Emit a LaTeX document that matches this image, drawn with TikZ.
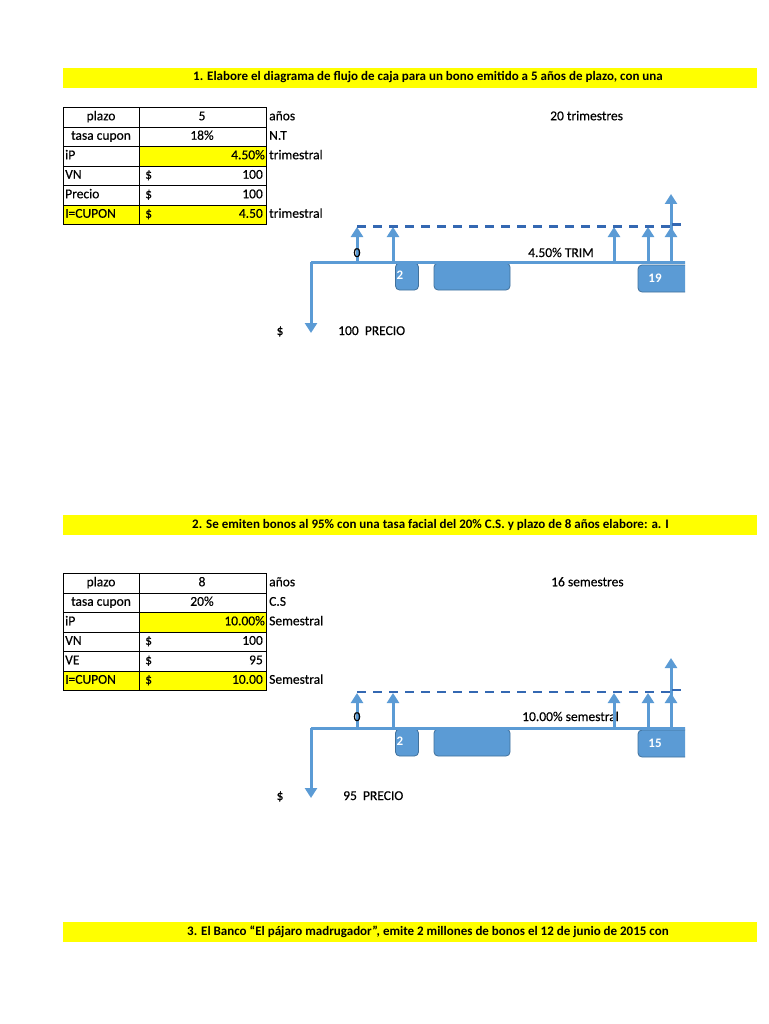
\documentclass[tikz,border=0pt]{standalone}
\usepackage{fontspec}
\setmainfont{Carlito}
\newfontfamily\semib{Carlito}[FakeBold=0.35]
\usetikzlibrary{arrows.meta}
\definecolor{ylw}{RGB}{255,255,0}
\definecolor{lblue}{RGB}{91,155,213}
\definecolor{dblue}{RGB}{52,104,178}
\definecolor{bord}{RGB}{65,113,156}
\tikzset{
  txt/.style={inner sep=0pt, text height=9pt, text depth=3pt, font=\semib\fontsize{13.5}{15}\selectfont},
  hdr/.style={inner sep=0pt, text height=9pt, text depth=3pt, font=\bfseries\fontsize{13}{15}\selectfont, anchor=west},
  grid/.style={draw=black, line width=0.8pt},
  axis/.style={draw=lblue, line width=3pt},
  uparrow/.style={draw=lblue, line width=3pt, -{Triangle[width=12pt,length=10pt]}},
  dashline/.style={draw=dblue, line width=2.2pt, dash pattern=on 9pt off 7pt},
  box/.style={draw=bord, fill=lblue, line width=0.8pt, rounded corners=4pt},
  boxtxt/.style={txt, text=white, font=\bfseries\fontsize{13}{15}\selectfont},
}
\begin{document}
\begin{tikzpicture}[x=1pt,y=-1pt]
\useasboundingbox[fill=white] (0,0) rectangle (768,1024);

%% ================= Section 1 =================
\fill[ylw] (63,68) rectangle (757,88);
\node[hdr] (h1) at (193,78) {1. Elabore el diagrama de flujo de caja para un bono emitido a 5 años de plazo, con una};

\fill[ylw] (139,146.5) rectangle (266,166);
\fill[ylw] (63,205) rectangle (266,224.5);
\draw[grid] (63,107.5) rectangle (266,224.5);
\foreach \yy in {127,146.5,166,185.5,205} \draw[grid] (63,\yy) -- (266,\yy);
\draw[grid] (139,107.5) -- (139,224.5);

\node[txt] (a1) at (101,117.25) {plazo};
\node[txt] (a2) at (101,136.75) {tasa cupon};
\node[txt,anchor=west] (a3) at (65,156.25) {iP};
\node[txt,anchor=west] (a4) at (65,175.75) {VN};
\node[txt,anchor=west] (a5) at (65,195.25) {Precio};
\node[txt,anchor=west] (a6) at (65,214.75) {I=CUPON};
\node[txt] (b1) at (202,117.25) {5};
\node[txt] (b2) at (202,136.75) {18\%};
\node[txt,anchor=east] (b3) at (265,156.25) {4.50\%};
\node[txt,anchor=west] (b4s) at (145,175.75) {\$};
\node[txt,anchor=east] (b4) at (263,175.75) {100};
\node[txt,anchor=west] (b5s) at (145,195.25) {\$};
\node[txt,anchor=east] (b5) at (263,195.25) {100};
\node[txt,anchor=west] (b6s) at (145,214.75) {\$};
\node[txt,anchor=east] (b6) at (263,214.75) {4.50};
\node[txt,anchor=west] (c1) at (269,117.25) {años};
\node[txt,anchor=west] (c2) at (269,136.75) {N.T};
\node[txt,anchor=west] (c3) at (269,156.25) {trimestral};
\node[txt,anchor=west] (c6) at (269,214.75) {trimestral};
\node[txt,anchor=west] (n1) at (550,117.25) {20 trimestres};

\begin{scope}
\clip (0,0) rectangle (685,500);
\node[box, minimum width=23pt, minimum height=27pt] (p1) at (407,276.5) {};
\node[box, minimum width=76pt, minimum height=27pt] (p2) at (472,276.5) {};
\node[box, minimum width=70pt, minimum height=27pt] (p3) at (673,278.5) {};
\node[boxtxt] (p1t) at (400,276) {2};
\node[boxtxt] (p3t) at (655,279) {19};
\node[txt,anchor=west] (r1) at (528,254) {4.50\% TRIM};
\coordinate (o1) at (311,262);
\coordinate (e1) at (690,262);
\coordinate (d1) at (311,333);
\draw[axis] (o1) -- (e1);
\draw[uparrow] (o1) -- (d1);
\coordinate (t1) at (357,262); \coordinate (u1) at (357,227);
\coordinate (t2) at (393,262); \coordinate (u2) at (393,227);
\coordinate (t3) at (614,262); \coordinate (u3) at (614,227);
\coordinate (t4) at (648,262); \coordinate (u4) at (648,227);
\coordinate (t5) at (671,262); \coordinate (u5) at (671,227);
\coordinate (v5) at (671,194);
\foreach \a/\b in {t1/u1,t2/u2,t3/u3,t4/u4,t5/u5} \draw[uparrow] (\a) -- (\b);
\draw[uparrow] (t5) -- (v5);
\coordinate (s1) at (357,226.5); \coordinate (s2) at (672,226.5);
\coordinate (s3) at (672,224.5); \coordinate (s4) at (690,224.5);
\draw[dashline] (s1) -- (s2);
\draw[dashline] (s3) -- (s4);
\node[txt] (z1) at (357,254) {0};
\end{scope}
\node[txt] (dl1) at (280,332) {\$};
\node[txt,anchor=west] (pr1) at (338,332) {100\ \ PRECIO};

%% ================= Section 2 =================
\fill[ylw] (63,515) rectangle (757,535);
\node[hdr] (h2) at (192,525) {2. Se emiten bonos al 95\% con una tasa facial del 20\% C.S. y plazo de 8 años elabore: a. I};

\fill[ylw] (139,612.5) rectangle (266,632);
\fill[ylw] (63,671) rectangle (266,690.5);
\draw[grid] (63,573.5) rectangle (266,690.5);
\foreach \yy in {593,612.5,632,651.5,671} \draw[grid] (63,\yy) -- (266,\yy);
\draw[grid] (139,573.5) -- (139,690.5);

\node[txt] (f1) at (101,583.25) {plazo};
\node[txt] (f2) at (101,602.75) {tasa cupon};
\node[txt,anchor=west] (f3) at (65,622.25) {iP};
\node[txt,anchor=west] (f4) at (65,641.75) {VN};
\node[txt,anchor=west] (f5) at (65,661.25) {VE};
\node[txt,anchor=west] (f6) at (65,680.75) {I=CUPON};
\node[txt] (g1) at (202,583.25) {8};
\node[txt] (g2) at (202,602.75) {20\%};
\node[txt,anchor=east] (g3) at (265,622.25) {10.00\%};
\node[txt,anchor=west] (g4s) at (145,641.75) {\$};
\node[txt,anchor=east] (g4) at (263,641.75) {100};
\node[txt,anchor=west] (g5s) at (145,661.25) {\$};
\node[txt,anchor=east] (g5) at (263,661.25) {95};
\node[txt,anchor=west] (g6s) at (145,680.75) {\$};
\node[txt,anchor=east] (g6) at (263,680.75) {10.00};
\node[txt,anchor=west] (k1) at (269,583.25) {años};
\node[txt,anchor=west] (k2) at (269,602.75) {C.S};
\node[txt,anchor=west] (k3) at (269,622.25) {Semestral};
\node[txt,anchor=west] (k6) at (269,680.75) {Semestral};
\node[txt,anchor=west] (n2) at (551,583.25) {16 semestres};

\begin{scope}
\clip (0,500) rectangle (685,900);
\node[box, minimum width=23pt, minimum height=27pt] (q1) at (407,742.5) {};
\node[box, minimum width=76pt, minimum height=27pt] (q2) at (472,742.5) {};
\node[box, minimum width=70pt, minimum height=27pt] (q3) at (673,743.5) {};
\node[boxtxt] (q1t) at (400,742) {2};
\node[boxtxt] (q3t) at (655,744) {15};
\node[txt,anchor=west] (r2) at (522,718) {10.00\% semestral};
\coordinate (o2) at (311,728);
\coordinate (e2) at (690,728);
\coordinate (d2) at (311,798);
\draw[axis] (o2) -- (e2);
\draw[uparrow] (o2) -- (d2);
\coordinate (w1) at (357,728); \coordinate (x1) at (357,693);
\coordinate (w2) at (393,728); \coordinate (x2) at (393,693);
\coordinate (w3) at (614,728); \coordinate (x3) at (614,693);
\coordinate (w4) at (648,728); \coordinate (x4) at (648,693);
\coordinate (w5) at (671,728); \coordinate (x5) at (671,693);
\coordinate (y5) at (671,658);
\foreach \a/\b in {w1/x1,w2/x2,w3/x3,w4/x4,w5/x5} \draw[uparrow] (\a) -- (\b);
\draw[uparrow] (w5) -- (y5);
\coordinate (m1) at (357,692); \coordinate (m2) at (672,692);
\coordinate (m3) at (672,690); \coordinate (m4) at (690,690);
\draw[dashline] (m1) -- (m2);
\draw[dashline] (m3) -- (m4);
\node[txt] (z2) at (357,718) {0};
\end{scope}
\node[txt] (dl2) at (280,797) {\$};
\node[txt,anchor=west] (pr2) at (343,797) {95\ \ PRECIO};

%% ================= Section 3 =================
\fill[ylw] (63,922) rectangle (757,942);
\begin{scope}
\clip (0,900) rectangle (684,1024);
\node[hdr] (h3) at (187,932) {3. El Banco “El pájaro madrugador”, emite 2 millones de bonos el 12 de junio de 2015 con};
\end{scope}
\end{tikzpicture}
\end{document}
